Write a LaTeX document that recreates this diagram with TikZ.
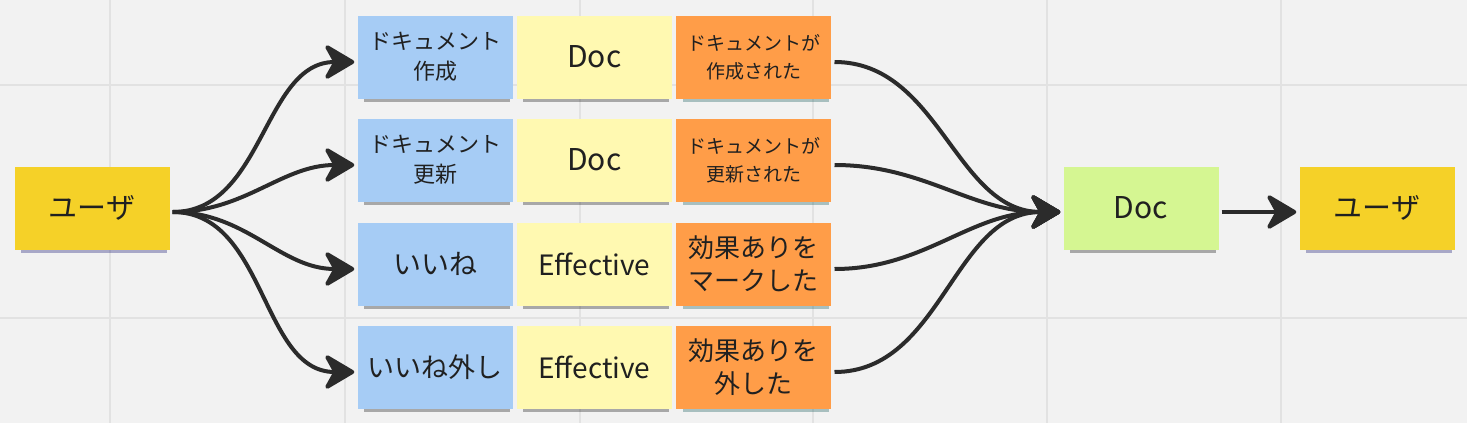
\documentclass[tikz,border=0pt]{standalone}
\usepackage{fontspec}
\setmainfont{Noto Sans CJK JP}
\usepackage{tikz}
\usetikzlibrary{positioning,arrows.meta,shadows}
\definecolor{bgGray}{HTML}{F2F2F2}
\definecolor{gridGray}{HTML}{E2E2E2}
\definecolor{noteBlue}{HTML}{A6CCF5}
\definecolor{noteYellow}{HTML}{FFF9B1}
\definecolor{noteOrange}{HTML}{FF9D48}
\definecolor{noteGreen}{HTML}{D5F692}
\definecolor{noteUser}{HTML}{F5D128}
\definecolor{inkDark}{HTML}{202020}
\definecolor{flowDark}{HTML}{2B2B2B}

\begin{document}
\begin{tikzpicture}[
  x=1pt, y=-1pt,
  note/.style={minimum width=155pt, minimum height=83pt, inner sep=0pt,
    align=center, text=inkDark,
    drop shadow={shadow xshift=2pt, shadow yshift=-6pt, shadow scale=0.94,
      opacity=0.3, fill=#1}},
  note/.default=black,
  userbox/.style={note=blue!40!black, fill=noteUser, font=\fontsize{29}{34}\selectfont},
  cmd/.style={note, fill=noteBlue},
  agg/.style={note, fill=noteYellow},
  evt/.style={note=teal!60!black, fill=noteOrange},
  readm/.style={note, fill=noteGreen, font=\fontsize{30}{34}\selectfont},
  flow/.style={draw=flowDark, line width=4pt, shorten <=3pt, shorten >=3pt,
    -{Stealth[length=34pt 0, width=40pt 0, inset=11pt 0, round]}}
]
  \useasboundingbox (0,0) rectangle (1467,423);

  % Board background with grid
  \fill[bgGray] (0,0) rectangle (1467,423);
  \foreach \gx in {110,345,580,813,1047,1281}
    \draw[gridGray, line width=2pt] (\gx,0) -- (\gx,423);
  \foreach \gy in {85,318}
    \draw[gridGray, line width=2pt] (0,\gy) -- (1467,\gy);

  % Actor
  \node[userbox] (userIn) at (92,208) {ユーザ};

  % Row 1: create
  \node[cmd, font=\fontsize{22}{30}\selectfont] (cmdCreate) at (435,57)
    {ドキュメント\\作成};
  \node[agg, font=\fontsize{30}{34}\selectfont, right=4pt of cmdCreate] (aggCreate) {Doc};
  \node[evt, font=\fontsize{19}{28}\selectfont, right=4pt of aggCreate] (evtCreate)
    {ドキュメントが\\作成された};

  % Row 2: update
  \node[cmd, font=\fontsize{22}{30}\selectfont] (cmdUpdate) at (435,160)
    {ドキュメント\\更新};
  \node[agg, font=\fontsize{30}{34}\selectfont, right=4pt of cmdUpdate] (aggUpdate) {Doc};
  \node[evt, font=\fontsize{19}{28}\selectfont, right=4pt of aggUpdate] (evtUpdate)
    {ドキュメントが\\更新された};

  % Row 3: like
  \node[cmd, font=\fontsize{28}{34}\selectfont] (cmdLike) at (435,264) {いいね};
  \node[agg, font=\fontsize{28}{34}\selectfont, right=4pt of cmdLike] (aggLike) {Effective};
  \node[evt, font=\fontsize{26}{33}\selectfont, right=4pt of aggLike] (evtLike)
    {効果ありを\\マークした};

  % Row 4: unlike
  \node[cmd, font=\fontsize{27}{34}\selectfont] (cmdUnlike) at (435,367) {いいね外し};
  \node[agg, font=\fontsize{28}{34}\selectfont, right=4pt of cmdUnlike] (aggUnlike) {Effective};
  \node[evt, font=\fontsize{26}{33}\selectfont, right=4pt of aggUnlike] (evtUnlike)
    {効果ありを\\外した};

  % Read model and receiver
  \node[readm] (docView) at (1141,208) {Doc};
  \node[userbox] (userOut) at (1377,208) {ユーザ};

  % Fan out to commands
  \draw[flow] ([yshift=-4pt]userIn.east) to[out=0, in=180] ([yshift=-5pt]cmdCreate.west);
  \draw[flow] ([yshift=-4pt]userIn.east) to[out=0, in=180] ([yshift=-5pt]cmdUpdate.west);
  \draw[flow] ([yshift=-4pt]userIn.east) to[out=0, in=180] ([yshift=-5pt]cmdLike.west);
  \draw[flow] ([yshift=-4pt]userIn.east) to[out=0, in=180] ([yshift=-5pt]cmdUnlike.west);

  % Fan in to read model
  \draw[flow] ([yshift=-5pt]evtCreate.east) to[out=0, in=180] ([yshift=-4pt]docView.west);
  \draw[flow] ([yshift=-5pt]evtUpdate.east) to[out=0, in=180] ([yshift=-4pt]docView.west);
  \draw[flow] ([yshift=-5pt]evtLike.east) to[out=0, in=180] ([yshift=-4pt]docView.west);
  \draw[flow] ([yshift=-5pt]evtUnlike.east) to[out=0, in=180] ([yshift=-4pt]docView.west);

  \draw[flow] ([yshift=-4pt]docView.east) -- ([yshift=-4pt]userOut.west);
\end{tikzpicture}
\end{document}
